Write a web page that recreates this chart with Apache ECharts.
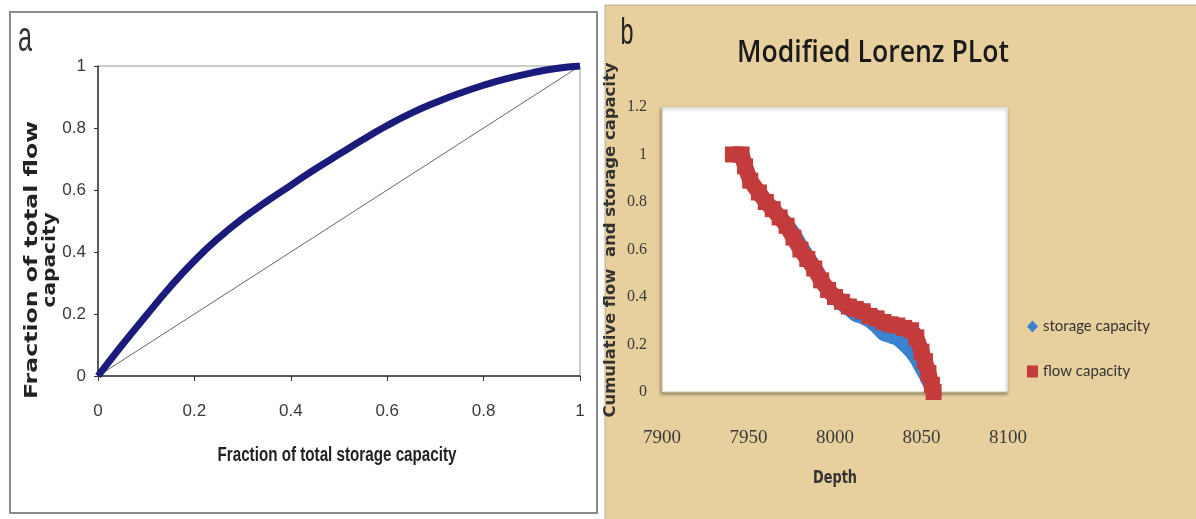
<!DOCTYPE html>
<html><head><meta charset="utf-8">
<script src="https://cdn.jsdelivr.net/npm/echarts@6/dist/echarts.min.js"></script>
<style>html,body{margin:0;padding:0;background:#fff}#c{width:1196px;height:519px}</style>
</head><body><div id="c"></div>
<script>
// Panel a: Lorenz curve
const storageFraction = [0,0.05,0.1,0.15,0.2,0.25,0.3,0.35,0.4,0.45,0.5,0.55,0.6,0.65,0.7,0.75,0.8,0.85,0.9,0.95,1];
const flowFraction    = [0,0.1,0.195,0.288,0.372,0.445,0.508,0.563,0.615,0.667,0.715,0.763,0.808,0.848,0.882,0.912,0.938,0.96,0.978,0.992,1.0];
const diagonalX = [0,1];
const diagonalY = [0,1];
// Panel b: Modified Lorenz plot
const depthFlow = [7941,7946,7948,7951,7956,7960,7964,7968,7972,7976,7980,7984,7988,7992,7996,8000,8004,8008,8012,8016,8020,8024,8028,8032,8036,8040,8044,8047,8050,8052,8054,8056,8057];
const flowCapacity = [1.00,1.00,0.95,0.89,0.84,0.80,0.77,0.735,0.70,0.65,0.60,0.56,0.52,0.47,0.43,0.40,0.38,0.36,0.35,0.34,0.32,0.31,0.295,0.285,0.28,0.27,0.26,0.23,0.17,0.13,0.08,0.03,0.0];
const depthStorage = [7941,7946,7948,7951,7956,7960,7964,7968,7972,7976,7980,7984,7988,7992,7996,8000,8004,8008,8012,8016,8020,8024,8028,8032,8036,8040,8044,8047,8050,8052,8054,8056,8057];
const storageCapacity = [1.00,0.99,0.95,0.89,0.84,0.80,0.77,0.74,0.71,0.67,0.62,0.575,0.53,0.48,0.43,0.40,0.37,0.35,0.325,0.315,0.30,0.275,0.245,0.235,0.225,0.20,0.17,0.14,0.10,0.075,0.045,0.015,0.0];
const seriesNames = ['storage capacity','flow capacity'];

const zip = (a,b) => a.map((v,i)=>[v,b[i]]);
const cv = document.createElement('canvas').getContext('2d');
function txt(text, cx, cy, size, weight, family, targetW, color, rot) {
  const font = weight + ' ' + size + 'px ' + family;
  cv.font = font;
  const w = cv.measureText(text).width;
  return {type:'text', x:cx, y:cy, rotation: rot||0, scaleX: targetW ? targetW/w : 1, z:100,
    style:{text:text, font:font, fill:color, textAlign:'center', align:'center', textVerticalAlign:'middle', verticalAlign:'middle'}};
}
const BEIGE = '#e7d09d';
const chart = echarts.init(document.getElementById('c'), null, {renderer:'canvas'});
chart.setOption({
  animation:false,
  backgroundColor:'#ffffff',
  graphic:[
    {type:'rect', z:-10, shape:{x:10,y:12,width:587,height:501}, style:{fill:'#fff', stroke:'#8a8a8a', lineWidth:2}},
    {type:'rect', z:-10, shape:{x:605,y:5,width:592,height:515}, style:{fill:BEIGE, stroke:'#b9b09a', lineWidth:1}},
    txt('a', 25, 39, 42, 'normal', '"Liberation Sans"', 14, '#333'),
    txt('b', 627, 34, 36, 'normal', '"Liberation Sans"', 13, '#222'),
    txt('Modified Lorenz PLot', 873, 53, 31, '600', '"Open Sans"', 272, '#1a1a1a'),
    txt('Fraction of total storage capacity', 337, 455, 20, 'bold', '"Liberation Sans"', 239, '#222'),
    txt('Fraction of total flow', 32, 260, 18, 'bold', '"DejaVu Sans"', 278, '#222', Math.PI/2),
    txt('capacity', 50, 260, 18, 'bold', '"DejaVu Sans"', 95, '#222', Math.PI/2),
    txt('Cumulative flow  and storage capacity', 611, 240, 15, 'bold', '"DejaVu Sans"', 355, '#333', Math.PI/2),
    txt('Depth', 835, 479, 17, 'bold', '"DejaVu Sans"', 44, '#333')
  ],
  grid:[
    {left:98, top:66, width:482, height:310, show:true, borderColor:'#999', borderWidth:1, backgroundColor:'#fff'},
    {left:662, top:107, width:346, height:285, show:true, borderColor:'#cfc6ae', borderWidth:1, backgroundColor:'#fff',
     shadowColor:'rgba(0,0,0,0.35)', shadowBlur:3, shadowOffsetX:-1, shadowOffsetY:2}
  ],
  xAxis:[
    {type:'value', gridIndex:0, min:0, max:1, interval:0.2,
     axisLine:{show:true, lineStyle:{color:'#333', width:1.5}},
     axisTick:{show:true, length:5, lineStyle:{color:'#333'}},
     splitLine:{show:false},
     axisLabel:{margin:27, fontSize:17, fontFamily:'"Liberation Sans",sans-serif', color:'#3a3a3a'}},
    {type:'value', gridIndex:1, min:7900, max:8100, interval:50,
     axisLine:{show:false}, axisTick:{show:false}, splitLine:{show:false},
     axisLabel:{margin:37, fontSize:19, fontFamily:'"Liberation Serif",serif', color:'#3a3a3a', formatter: v => String(v)}}
  ],
  yAxis:[
    {type:'value', gridIndex:0, min:0, max:1, interval:0.2,
     axisLine:{show:true, lineStyle:{color:'#333', width:1.5}},
     axisTick:{show:true, length:4, lineStyle:{color:'#333'}},
     splitLine:{show:false},
     axisLabel:{margin:12, fontSize:17, fontFamily:'"Liberation Sans",sans-serif', color:'#3a3a3a'}},
    {type:'value', gridIndex:1, min:0, max:1.2, interval:0.2,
     axisLine:{show:false}, axisTick:{show:false}, splitLine:{show:false},
     axisLabel:{margin:15, fontSize:16, fontFamily:'"Liberation Serif",serif', color:'#3a3a3a'}}
  ],
  legend:{
    orient:'vertical', left:1022, top:314, itemWidth:11, itemHeight:12, itemGap:30,
    textStyle:{fontFamily:'Lato, sans-serif', fontSize:15, color:'#333'},
    data:[{name:seriesNames[0], icon:'diamond'},{name:seriesNames[1], icon:'rect'}]
  },
  series:[
    {type:'line', xAxisIndex:0, yAxisIndex:0, data:zip(diagonalX, diagonalY), symbol:'none',
     lineStyle:{color:'#666', width:1}, z:2},
    {type:'line', xAxisIndex:0, yAxisIndex:0, data:zip(storageFraction, flowFraction), symbol:'none', smooth:true,
     lineStyle:{color:'#1b1b7c', width:7}, z:3},
    {name:seriesNames[0], type:'line', xAxisIndex:1, yAxisIndex:1, data:zip(depthStorage, storageCapacity),
     symbol:'diamond', symbolSize:16, itemStyle:{color:'#3b82d0'}, lineStyle:{color:'#3b82d0', width:14, join:'round'}, z:3},
    {name:seriesNames[1], type:'line', xAxisIndex:1, yAxisIndex:1, data:zip(depthFlow, flowCapacity),
     symbol:'rect', symbolSize:16, itemStyle:{color:'#c33b3b'}, lineStyle:{color:'#c33b3b', width:16, join:'round'}, z:4}
  ]
});
</script></body></html>
